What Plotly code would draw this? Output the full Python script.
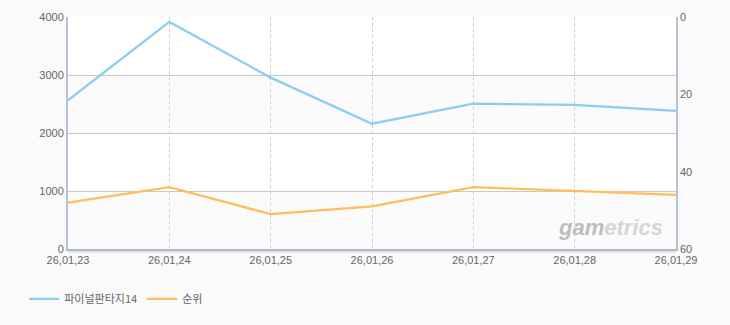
import plotly.graph_objects as go

categories = ["26,01,23", "26,01,24", "26,01,25", "26,01,26", "26,01,27", "26,01,28", "26,01,29"]
players = [2565, 3915, 2955, 2160, 2505, 2485, 2380]
ranks = [48, 44, 51, 49, 44, 45, 46]
left_ticks = [0, 1000, 2000, 3000, 4000]
right_ticks = [0, 20, 40, 60]

name_a = "파이널판타지14"
name_b = "순위"

xs = list(range(len(categories)))
FONT = "Liberation Sans, Arial, Noto Sans CJK KR, sans-serif"

fig = go.Figure()
fig.add_trace(go.Scatter(x=xs, y=players, name=name_a, mode="lines",
                         line=dict(color="rgb(140,206,240)", width=2.3), yaxis="y"))
fig.add_trace(go.Scatter(x=xs, y=ranks, name=name_b, mode="lines",
                         line=dict(color="rgb(255,190,92)", width=2.3), yaxis="y2"))

shapes = []
for lo, hi in [(0, 1000), (2000, 3000)]:
    shapes.append(dict(type="rect", xref="paper", yref="y", x0=0, x1=1, y0=lo, y1=hi,
                       fillcolor="#fbfbfb", line=dict(width=0), layer="below"))
shapes.append(dict(type="line", xref="paper", yref="paper", x0=0, x1=1, y0=-0.012, y1=-0.012,
                   line=dict(color="#e6e6e6", width=2), layer="below"))

fig.update_layout(
    width=730, height=325,
    margin=dict(l=68, r=54, t=17, b=76),
    paper_bgcolor="#fafafa",
    plot_bgcolor="#ffffff",
    font=dict(family=FONT, size=11, color="#666666"),
    shapes=shapes,
    xaxis=dict(
        range=[0, len(categories) - 1],
        tickmode="array", tickvals=xs, ticktext=categories,
        showgrid=True, gridcolor="#cccccc", griddash="3px,3px", gridwidth=1,
        showline=True, linecolor="#a9bacd", linewidth=2, mirror=False,
        ticks="", tickfont=dict(size=11, color="#666666"), zeroline=False,
    ),
    yaxis=dict(
        range=[0, 4000], tickmode="array", tickvals=left_ticks,
        showgrid=True, gridcolor="#c8c8c8", gridwidth=1,
        showline=True, linecolor="#b4c3d4", linewidth=2, mirror=True,
        ticks="", tickfont=dict(size=11, color="#666666"), zeroline=False,
    ),
    yaxis2=dict(
        range=[60, 0], tickmode="array", tickvals=right_ticks,
        overlaying="y", side="right", showgrid=False, ticklabelstandoff=3,
        showline=False, ticks="", tickfont=dict(size=11, color="#666666"), zeroline=False,
    ),
    showlegend=True,
    legend=dict(orientation="h", x=-0.072, xanchor="left", y=-0.215, yanchor="middle",
                font=dict(family="Noto Sans CJK KR, sans-serif", size=11, color="#666666"),
                bgcolor="rgba(0,0,0,0)", itemwidth=30),
)

fig.add_annotation(xref="paper", yref="paper", x=0.893, y=0.094, xanchor="center", yanchor="middle",
                   text="<b><i><span style='color:#bdbdbd'>gam</span><span style='color:#d6d6d6'>etrics</span></i></b>",
                   showarrow=False,
                   font=dict(family="Liberation Sans, Arial, sans-serif", size=22, color="#c8c8c8"))

fig.write_html("out.html")
